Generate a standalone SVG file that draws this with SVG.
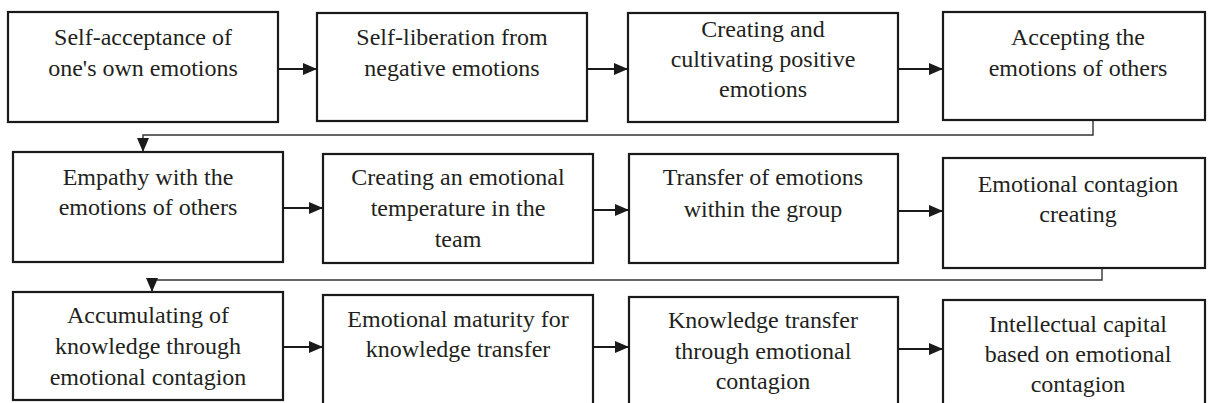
<svg xmlns="http://www.w3.org/2000/svg" width="1208" height="403" viewBox="0 0 1208 403">
<defs>
<marker id="ah" viewBox="0 0 14 12" refX="14" refY="6" markerWidth="14" markerHeight="12" markerUnits="userSpaceOnUse" orient="auto">
<path d="M0,0 L14,6 L0,12 Z" fill="#1a1a1a"/>
</marker>
<style>
.box{fill:#fff;stroke:#1a1a1a;stroke-width:2.2}
.t{font-family:'Liberation Serif','DejaVu Serif',serif;font-size:24px;fill:#231f20;text-anchor:middle}
.c{fill:none;stroke:#1a1a1a;stroke-width:2.2}
.l{fill:none;stroke:#333;stroke-width:1.4}
</style>
</defs>
<rect width="1208" height="403" fill="#fff"/>
<g id="connectors">
<line class="c" x1="278" y1="69" x2="317" y2="69" marker-end="url(#ah)"/>
<line class="c" x1="587" y1="69" x2="628" y2="69" marker-end="url(#ah)"/>
<line class="c" x1="898" y1="69" x2="943" y2="69" marker-end="url(#ah)"/>
<polyline class="l" points="1093,120 1093,135 143,135 143,152" marker-end="url(#ah)"/>
<line class="c" x1="283" y1="208" x2="323" y2="208" marker-end="url(#ah)"/>
<line class="c" x1="593" y1="210" x2="629" y2="210" marker-end="url(#ah)"/>
<line class="c" x1="898" y1="211" x2="943" y2="211" marker-end="url(#ah)"/>
<polyline class="l" points="1102,268 1102,280 152,280 152,292" marker-end="url(#ah)"/>
<line class="c" x1="283" y1="347" x2="323" y2="347" marker-end="url(#ah)"/>
<line class="c" x1="593" y1="347" x2="629" y2="347" marker-end="url(#ah)"/>
<line class="c" x1="898" y1="349" x2="943" y2="349" marker-end="url(#ah)"/>
</g>
<g font-family="Liberation Serif, DejaVu Serif, serif">
<g id="n1"><rect class="box" x="8" y="12" width="270" height="110"/><text class="t" x="143" y="45">Self-acceptance of</text><text class="t" x="143" y="76">one's own emotions</text></g>
<g id="n2"><rect class="box" x="317" y="13" width="270" height="108"/><text class="t" x="452" y="45">Self-liberation from</text><text class="t" x="452" y="76">negative emotions</text></g>
<g id="n3"><rect class="box" x="628" y="13" width="270" height="109"/><text class="t" x="763" y="37">Creating and</text><text class="t" x="763" y="67">cultivating positive</text><text class="t" x="763" y="97">emotions</text></g>
<g id="n4"><rect class="box" x="943" y="12" width="262" height="108"/><text class="t" x="1078" y="45">Accepting the</text><text class="t" x="1078" y="76">emotions of others</text></g>
<g id="n5"><rect class="box" x="13" y="152" width="270" height="110"/><text class="t" x="148" y="185">Empathy with the</text><text class="t" x="148" y="215">emotions of others</text></g>
<g id="n6"><rect class="box" x="323" y="154" width="270" height="109"/><text class="t" x="458" y="185">Creating an emotional</text><text class="t" x="458" y="216">temperature in the</text><text class="t" x="458" y="247">team</text></g>
<g id="n7"><rect class="box" x="629" y="154" width="269" height="109"/><text class="t" x="763" y="185">Transfer of emotions</text><text class="t" x="763" y="217">within the group</text></g>
<g id="n8"><rect class="box" x="943" y="158" width="262" height="110"/><text class="t" x="1078" y="192">Emotional contagion</text><text class="t" x="1078" y="222">creating</text></g>
<g id="n9"><rect class="box" x="13" y="292" width="270" height="108"/><text class="t" x="148" y="323">Accumulating of</text><text class="t" x="148" y="354">knowledge through</text><text class="t" x="148" y="385">emotional contagion</text></g>
<g id="n10"><rect class="box" x="323" y="295" width="270" height="115"/><text class="t" x="458" y="327">Emotional maturity for</text><text class="t" x="458" y="357">knowledge transfer</text></g>
<g id="n11"><rect class="box" x="629" y="297" width="269" height="115"/><text class="t" x="763" y="328">Knowledge transfer</text><text class="t" x="763" y="359">through emotional</text><text class="t" x="763" y="389">contagion</text></g>
<g id="n12"><rect class="box" x="943" y="300" width="262" height="115"/><text class="t" x="1078" y="332">Intellectual capital</text><text class="t" x="1078" y="362">based on emotional</text><text class="t" x="1078" y="392">contagion</text></g>
</g>
</svg>
